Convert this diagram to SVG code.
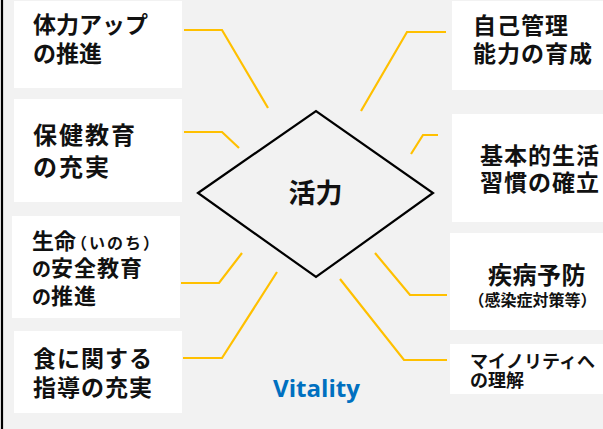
<svg xmlns="http://www.w3.org/2000/svg" width="603" height="429" viewBox="0 0 603 429">
<style>
.box{fill:#ffffff;stroke:none}
.t{font-family:"Noto Sans CJK JP","Noto Sans",sans-serif;font-weight:700;fill:#111111}
.conn{fill:none;stroke:#FFC000;stroke-width:2.2;stroke-linejoin:miter}
</style>
<rect x="0" y="0" width="603" height="429" fill="#f2f2f2"/>
<line x1="2" y1="0" x2="2" y2="429" stroke="#000000" stroke-width="2.2"/>

<g id="node-tairyoku">
<rect class="box" x="14" y="1" width="168" height="87"/>
<text class="t" x="33" y="33" font-size="23">体力アップ</text>
<text class="t" x="33" y="62" font-size="23">の推進</text>
</g>
<g id="node-hoken">
<rect class="box" x="14" y="99" width="168" height="103"/>
<text class="t" x="33" y="143.5" font-size="24" letter-spacing="2">保健教育</text>
<text class="t" x="33" y="176" font-size="24" letter-spacing="2">の充実</text>
</g>
<g id="node-anzen">
<rect class="box" x="12" y="216" width="168" height="102"/>
<text class="t" x="32" y="249" font-size="22"><tspan>生命</tspan><tspan font-size="16" dx="-5" letter-spacing="2">（いのち）</tspan></text>
<text class="t" x="32" y="276" font-size="22" letter-spacing="1"><tspan font-size="19" letter-spacing="0">の</tspan><tspan>安全教育</tspan></text>
<text class="t" x="32" y="304" font-size="22" letter-spacing="1"><tspan font-size="19" letter-spacing="0">の</tspan><tspan>推進</tspan></text>
</g>
<g id="node-shoku">
<rect class="box" x="14" y="331" width="168" height="82"/>
<text class="t" x="33" y="367" font-size="23" letter-spacing="1">食に関する</text>
<text class="t" x="33" y="396" font-size="23" letter-spacing="1">指導の充実</text>
</g>

<g id="node-jiko">
<rect class="box" x="452" y="1" width="151" height="89"/>
<text class="t" x="473" y="34" font-size="23" letter-spacing="1">自己管理</text>
<text class="t" x="473" y="62" font-size="23" letter-spacing="1">能力の育成</text>
</g>
<g id="node-seikatsu">
<rect class="box" x="452" y="114" width="151" height="108"/>
<text class="t" x="480" y="164" font-size="23" letter-spacing="1">基本的生活</text>
<text class="t" x="480" y="191" font-size="23" letter-spacing="1">習慣の確立</text>
</g>
<g id="node-shippei">
<rect class="box" x="450" y="233" width="153" height="97"/>
<text class="t" x="488" y="284" font-size="24" letter-spacing="0.5">疾病予防</text>
<text class="t" x="468.5" y="306" font-size="16">（感染症対策等）</text>
</g>
<g id="node-minority">
<rect class="box" x="450" y="344" width="153" height="50"/>
<text class="t" x="470" y="368" font-size="18">マイノリティへ</text>
<text class="t" x="470" y="387" font-size="18">の理解</text>
</g>

<g id="node-katsuryoku">
<polygon points="198,193 316,111 433,193 316,277" fill="#f2f2f2" stroke="#000000" stroke-width="2.2" stroke-linejoin="miter"/>
<text class="t" x="315.5" y="203" font-size="27" text-anchor="middle">活力</text>
</g>

<g id="label-vitality">
<text x="316.5" y="397" font-family="'Open Sans','Liberation Sans',sans-serif" font-weight="700" font-size="23" fill="#0070C0" text-anchor="middle" textLength="87" lengthAdjust="spacingAndGlyphs">Vitality</text>
</g>

<g id="connectors">
<polyline class="conn" points="184,30 222,30 268,108"/>
<polyline class="conn" points="184,132 222,132 239,148"/>
<polyline class="conn" points="181,283 219,283 242,253"/>
<polyline class="conn" points="183,358 222,358 277,272"/>
<polyline class="conn" points="446,32 407,32 361,111"/>
<polyline class="conn" points="438,135 423,135 411,154"/>
<polyline class="conn" points="447,295 410,295 375,253"/>
<polyline class="conn" points="447,360 404,360 340,279"/>
</g>
</svg>
